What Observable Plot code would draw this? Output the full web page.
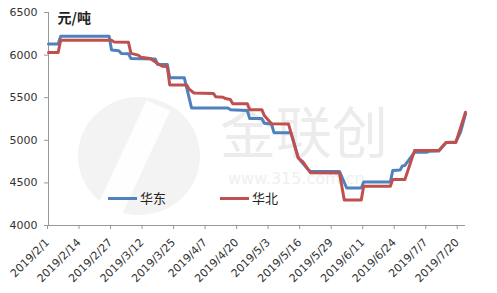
<!DOCTYPE html>
<html>
<head>
<meta charset="utf-8">
<script src="https://cdn.jsdelivr.net/npm/d3@7"></script>
<script src="https://cdn.jsdelivr.net/npm/@observablehq/plot@0.6"></script>
<style>
  html, body { margin: 0; padding: 0; background: #fff; }
  #wrap { position: relative; width: 497px; height: 293px; overflow: hidden; font-family: "DejaVu Sans", sans-serif; }
  #wm { position: absolute; left: 0; top: 0; width: 497px; height: 293px; z-index: 0; }
  #chart { position: absolute; left: 0; top: 0; z-index: 1; }
  .leg { position: absolute; z-index: 2; font-family: "Noto Sans CJK SC", sans-serif; font-size: 13px; line-height: 16px; color: #222; display: flex; align-items: center; }
  .leg span.sw { display: inline-block; width: 29px; height: 3px; margin-right: 3px; }
</style>
</head>
<body>
<div id="wrap">
  <div id="wm">
    <div style="position:absolute;left:78px;top:97px;width:122px;height:118px;border-radius:50%;background:#f3f3f3;"></div>
    <div style="position:absolute;left:120px;top:100px;width:26px;height:120px;background:#fff;transform:rotate(25deg);opacity:0.9;"></div>
    <div style="position:absolute;left:220px;top:101px;font-family:'Noto Sans CJK SC';font-size:56px;line-height:56px;height:56px;color:#ececec;white-space:nowrap;">金联创</div>
    <div style="position:absolute;left:228px;top:171px;font-family:'DejaVu Sans';font-size:16px;line-height:16px;height:16px;color:#efefef;white-space:nowrap;">www.315.com.cn</div>
  </div>
  <div id="chart"></div>
  <div class="leg" style="left:108px;top:190px;"><span class="sw" style="background:#4F81BD"></span>华东</div>
  <div class="leg" style="left:220px;top:190px;"><span class="sw" style="background:#C0504D"></span>华北</div>
</div>
<script>
// 华东 (East China)
const eastDates = ["2019-02-01","2019-02-05","2019-02-06","2019-02-26","2019-02-27","2019-03-02","2019-03-03","2019-03-06","2019-03-07","2019-03-17","2019-03-18","2019-03-22","2019-03-23","2019-03-29","2019-04-01","2019-04-16","2019-04-17","2019-04-24","2019-04-25","2019-04-30","2019-05-01","2019-05-04","2019-05-05","2019-05-12","2019-05-15","2019-05-16","2019-05-19","2019-05-20","2019-06-01","2019-06-04","2019-06-10","2019-06-11","2019-06-22","2019-06-23","2019-06-26","2019-06-27","2019-06-28","2019-07-02","2019-07-07","2019-07-08","2019-07-12","2019-07-15","2019-07-19","2019-07-21","2019-07-23"];
const eastValues = [6130,6130,6220,6220,6060,6050,6020,6015,5960,5955,5890,5890,5735,5735,5380,5380,5360,5350,5255,5255,5200,5190,5090,5090,4800,4760,4660,4635,4635,4440,4440,4510,4510,4645,4650,4700,4705,4860,4860,4870,4875,4975,4980,5100,5310];
// 华北 (North China)
const northDates = ["2019-02-01","2019-02-05","2019-02-06","2019-02-27","2019-02-28","2019-03-06","2019-03-07","2019-03-10","2019-03-11","2019-03-15","2019-03-18","2019-03-20","2019-03-22","2019-03-23","2019-03-30","2019-03-31","2019-04-02","2019-04-10","2019-04-11","2019-04-14","2019-04-15","2019-04-17","2019-04-18","2019-04-24","2019-04-25","2019-04-30","2019-05-01","2019-05-04","2019-05-11","2019-05-15","2019-05-17","2019-05-20","2019-06-01","2019-06-03","2019-06-10","2019-06-11","2019-06-22","2019-06-23","2019-06-28","2019-07-02","2019-07-12","2019-07-15","2019-07-19","2019-07-21","2019-07-23"];
const northValues = [6030,6030,6175,6175,6155,6150,6020,6000,5975,5960,5900,5870,5865,5650,5650,5600,5555,5550,5510,5505,5490,5480,5430,5430,5360,5360,5290,5195,5190,4790,4745,4620,4615,4300,4300,4460,4460,4540,4540,4880,4880,4975,4975,5150,5330];
const seriesNames = ["华东", "华北"];
const seriesColors = ["#4F81BD", "#C0504D"];
const xTickLabels = ["2019-02-01","2019-02-14","2019-02-27","2019-03-12","2019-03-25","2019-04-07","2019-04-20","2019-05-03","2019-05-16","2019-05-29","2019-06-11","2019-06-24","2019-07-07","2019-07-20"];
const yTicks = [4000,4500,5000,5500,6000,6500];
const unitLabel = "元/吨";

const rows = [];
eastDates.forEach((d, i) => rows.push({date: new Date(d), value: eastValues[i], series: seriesNames[0]}));
northDates.forEach((d, i) => rows.push({date: new Date(d), value: northValues[i], series: seriesNames[1]}));
const x0 = new Date("2019-02-01"), x1 = new Date("2019-07-23");
const fmt = d3.utcFormat("%Y/%-m/%-d");

const chart = Plot.plot({
  width: 497,
  height: 293,
  marginLeft: 48,
  marginRight: 32,
  marginTop: 12,
  marginBottom: 68,
  style: {background: "transparent", fontFamily: "DejaVu Sans, sans-serif", color: "#333"},
  x: {type: "utc", domain: [x0, x1]},
  y: {domain: [4000, 6500]},
  color: {domain: seriesNames, range: seriesColors},
  marks: [
    Plot.axisY({ticks: yTicks, tickFormat: d => String(d), tickSize: 4, tickPadding: 7, fontSize: 11, label: null, stroke: "#999", fill: "#333"}),
    Plot.axisX({ticks: xTickLabels.map(d => new Date(d)), tickFormat: fmt, tickRotate: -45, tickSize: 4, tickPadding: 11, dx: -1, fontSize: 11, label: null, stroke: "#999", fill: "#333"}),
    Plot.ruleX([x0], {stroke: "#999"}),
    Plot.ruleY([4000], {stroke: "#999"}),
    Plot.line(rows, {x: "date", y: "value", z: "series", stroke: "series", strokeWidth: 3, curve: "linear"}),
    Plot.text([unitLabel], {frameAnchor: "top-left", dx: 9, dy: 1, fontSize: 14, fontWeight: "bold", fill: "#222", textAnchor: "start", lineAnchor: "top", fontFamily: "Noto Sans CJK SC"})
  ]
});
document.getElementById("chart").appendChild(chart);
</script>
</body>
</html>
